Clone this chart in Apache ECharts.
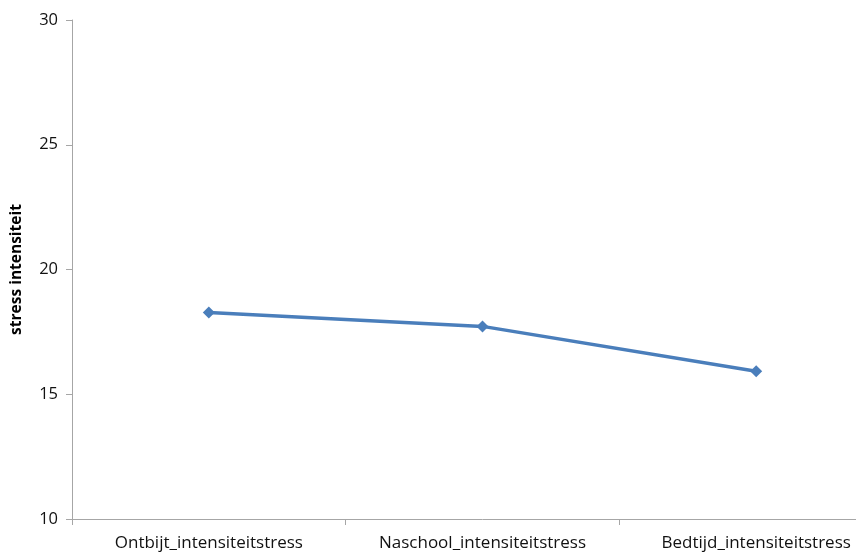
<!DOCTYPE html>
<html>
<head>
<meta charset="utf-8">
<script src="https://cdn.jsdelivr.net/npm/echarts@6/dist/echarts.min.js"></script>
<style>
  html, body { margin: 0; padding: 0; background: #fff; overflow: hidden; }
  /* the plot area runs a little past the right edge of the window */
  #chart { width: 900px; height: 552px; }
</style>
</head>
<body>
<div id="chart"></div>
<script>
// Moments of the day and the mean stress intensity at each
const categories = ['Ontbijt_intensiteitstress', 'Naschool_intensiteitstress', 'Bedtijd_intensiteitstress'];
const stressValues = [18.28, 17.72, 15.92];
const yTicks = [10, 15, 20, 25, 30];

const chart = echarts.init(document.getElementById('chart'), null, { renderer: 'canvas' });

const FONT = '"Open Sans", "Liberation Sans", sans-serif';

chart.setOption({
  animation: false,
  grid: { left: 72, right: 7, top: 20, bottom: 33, containLabel: false, outerBoundsMode: 'none' },
  xAxis: {
    type: 'category',
    data: categories,
    boundaryGap: true,
    axisLine: { lineStyle: { color: '#a6a6a6', width: 1 } },
    axisTick: { show: true, length: 6, lineStyle: { color: '#a6a6a6' } },
    axisLabel: { color: '#111', fontFamily: FONT, fontSize: 17, margin: 16 },
    splitLine: { show: false }
  },
  yAxis: {
    type: 'value',
    min: yTicks[0],
    max: yTicks[yTicks.length - 1],
    interval: yTicks[1] - yTicks[0],
    name: 'stress intensiteit',
    nameLocation: 'middle',
    nameGap: 47,
    nameTextStyle: { color: '#000', fontFamily: FONT, fontSize: 15.5, fontWeight: 'bold' },
    axisLine: { show: true, lineStyle: { color: '#a6a6a6', width: 1 } },
    axisTick: { show: true, length: 6, lineStyle: { color: '#a6a6a6' } },
    axisLabel: { color: '#111', fontFamily: FONT, fontSize: 16.5, margin: 14 },
    splitLine: { show: false }
  },
  series: [{
    type: 'line',
    data: stressValues,
    symbol: 'diamond',
    symbolSize: 12,
    lineStyle: { color: '#4a7ebb', width: 3.5 },
    itemStyle: { color: '#4a7ebb' }
  }]
});
</script>
</body>
</html>
